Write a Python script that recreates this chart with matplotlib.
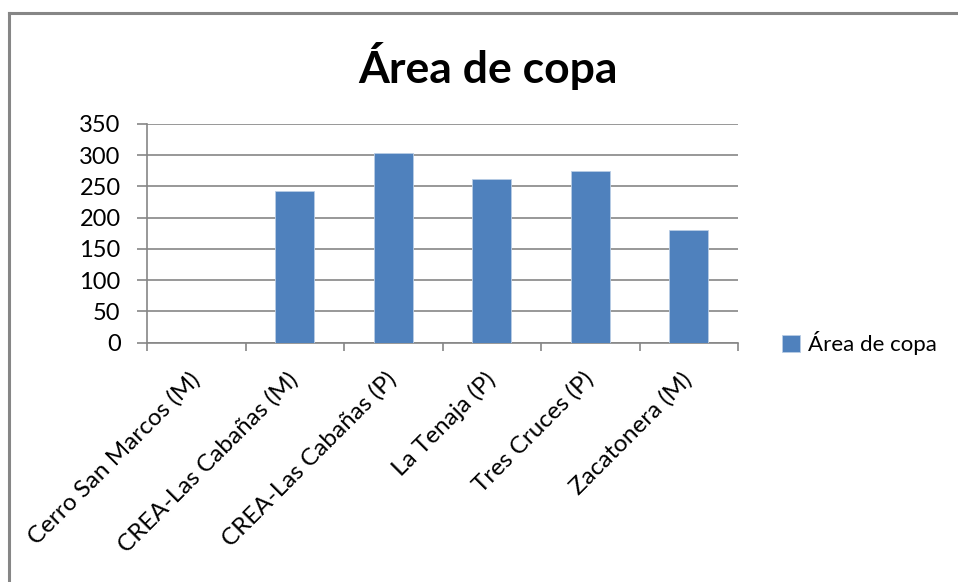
import matplotlib.pyplot as plt
from matplotlib.lines import Line2D

sitios = ["Cerro San Marcos (M)", "CREA-Las Cabañas (M)", "CREA-Las Cabañas (P)",
          "La Tenaja (P)", "Tres Cruces (P)", "Zacatonera (M)"]
area_copa = [0, 242, 303, 262, 274, 180]
yticks = [0, 50, 100, 150, 200, 250, 300, 350]

azul = "#4F81BD"
gris = "#868686"
plt.rcParams['font.family'] = ['Lato', 'DejaVu Sans']

fig = plt.figure(figsize=(9.58, 5.82), dpi=100)
ax = fig.add_axes([147 / 958, 1 - 342.5 / 582, (738 - 147) / 958, (342.5 - 124) / 582])

# marco exterior del gráfico (solo se ven los bordes superior e izquierdo)
fig.lines.append(Line2D([8.5 / 958, 1.0], [1 - 12.5 / 582] * 2, transform=fig.transFigure,
                        color=gris, linewidth=2.2))
fig.lines.append(Line2D([8.5 / 958] * 2, [0.0, 1 - 12.5 / 582], transform=fig.transFigure,
                        color=gris, linewidth=2.2))

x = range(len(sitios))
ax.bar(x, area_copa, width=0.4, color=azul, edgecolor="#b9cde5", linewidth=0.6,
       label="Área de copa", zorder=3)

ax.set_xlim(-0.5, len(sitios) - 0.5)
ax.set_ylim(0, 350)
ax.set_yticks(yticks)
ax.yaxis.grid(True, color=gris, linewidth=1.2, zorder=0)
ax.tick_params(axis='y', length=7, width=1.2, color=gris, labelsize=17, pad=12)

ax.set_xticks([i - 0.5 for i in range(len(sitios) + 1)], minor=False)
ax.set_xticklabels([])
ax.set_xticks(list(x), minor=True)
ax.set_xticklabels(sitios, minor=True, rotation=45, ha='right', va='center',
                   rotation_mode='anchor', fontsize=17.5)
ax.tick_params(axis='x', which='major', length=6, width=1.2, color=gris)
ax.tick_params(axis='x', which='minor', length=0, pad=24)

for s in ['top', 'right']:
    ax.spines[s].set_visible(False)
for s in ['left', 'bottom']:
    ax.spines[s].set_color(gris)
    ax.spines[s].set_linewidth(1.2)

fig.text(488 / 958, 1 - 66 / 582, "Área de copa", ha='center', va='center',
         fontsize=32, fontweight='bold')

fig.legend(loc='center left', bbox_to_anchor=(762 / 958, 1 - 343 / 582), frameon=False,
           fontsize=16, handlelength=0.8, handleheight=0.8, handletextpad=0.35)

fig.savefig("out.png", dpi=100)
